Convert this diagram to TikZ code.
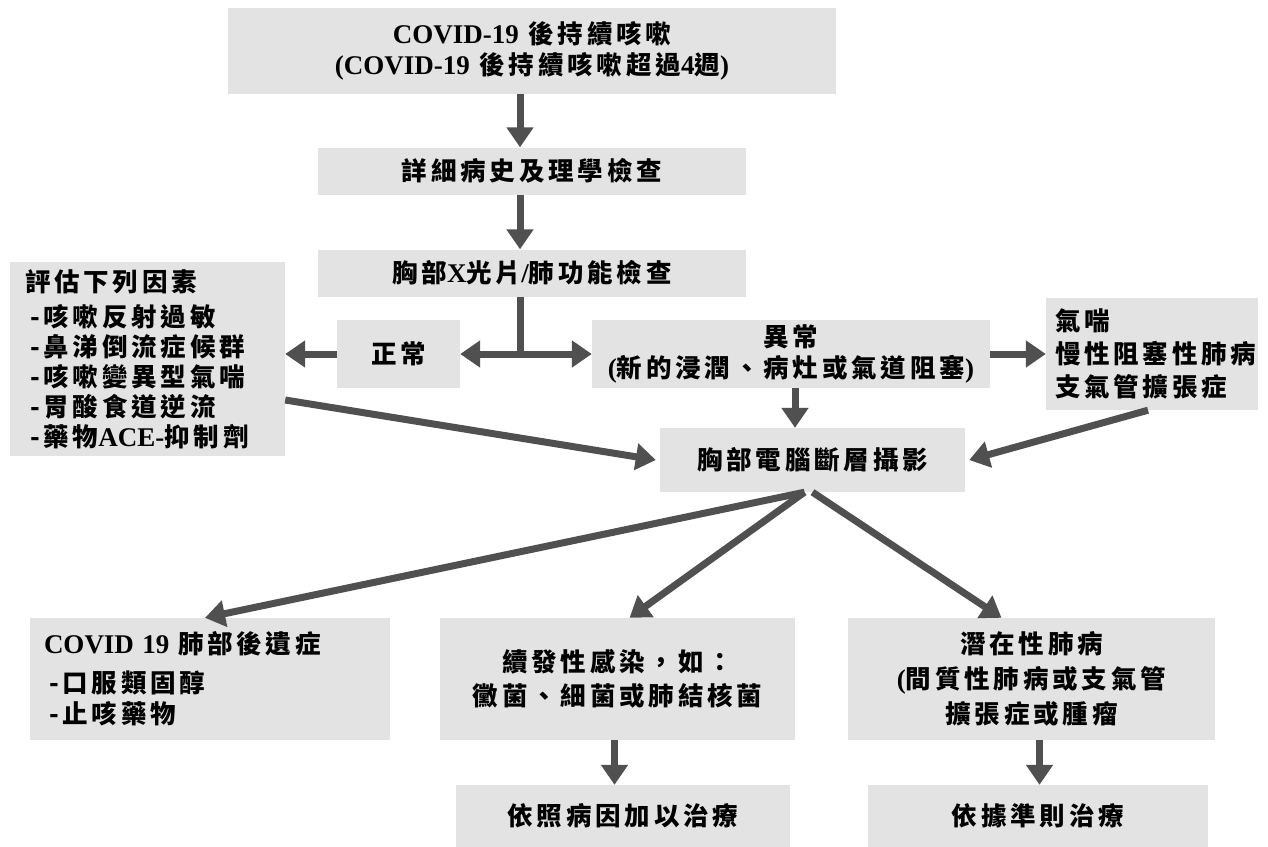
\documentclass[tikz,border=0pt]{standalone}
\usepackage{fontspec}
\setmainfont{Liberation Serif}
\newfontfamily\cjk[LetterSpace=15]{Noto Sans CJK TC}
\usetikzlibrary{arrows.meta}
\definecolor{boxgray}{HTML}{E3E3E3}
\definecolor{arrgray}{HTML}{505050}
\newcommand{\en}[1]{{\rmfamily\bfseries\fontsize{27}{31}\selectfont #1}}
\tikzset{
  box/.style={fill=boxgray, draw=none, inner sep=0pt, font=\cjk\bfseries\fontsize{25.5}{31}\selectfont},
  arr/.style={draw=arrgray, line width=7pt, -{Triangle[length=20pt,width=26pt]}},
  dblarr/.style={draw=arrgray, line width=7pt, {Triangle[length=20pt,width=26pt]}-{Triangle[length=20pt,width=26pt]}},
  seg/.style={draw=arrgray, line width=7pt}
}
\begin{document}
\begin{tikzpicture}[x=1pt,y=-1pt]
\useasboundingbox (0,0) rectangle (1268,846);
\fill[white] (0,0) rectangle (1268,846);

\node[box, minimum width=608pt, minimum height=86pt, align=center] (top) at (532,51)
  {\en{COVID-19} 後持續咳嗽\\ \en{(COVID-19} 後持續咳嗽超過\en{4}週\en{)}};
\node[box, minimum width=428pt, minimum height=47pt] (hist) at (532,171) {詳細病史及理學檢查};
\node[box, minimum width=428pt, minimum height=47pt] (cxr) at (532,273) {胸部\en{X}光片\en{/}肺功能檢查};
\node[box, minimum width=275pt, minimum height=194pt, align=left, text width=245pt,
      font=\cjk\bfseries\fontsize{25.5}{30}\selectfont] (eval) at (147.5,359)
  {評估下列因素\\[5pt]
   \hspace*{5pt}-咳嗽反射過敏\\
   \hspace*{5pt}-鼻涕倒流症候群\\
   \hspace*{5pt}-咳嗽變異型氣喘\\
   \hspace*{5pt}-胃酸食道逆流\\
   \hspace*{5pt}-藥物\en{ACE-}抑制劑};
\node[box, minimum width=123pt, minimum height=68pt] (norm) at (398.5,354) {正常};
\node[box, minimum width=398pt, minimum height=68pt, align=center] (abn) at (791,354)
  {異常\\ \en{(}新的浸潤、病灶或氣道阻塞\en{)}};
\node[box, minimum width=212pt, minimum height=112pt, align=left, text width=194pt,
      font=\cjk\bfseries\fontsize{25.5}{33}\selectfont] (asth) at (1152,354)
  {氣喘\\ 慢性阻塞性肺病\\ 支氣管擴張症};
\node[box, minimum width=305pt, minimum height=64pt] (ct) at (812.5,460) {胸部電腦斷層攝影};
\node[box, minimum width=360pt, minimum height=122pt, align=left, text width=332pt] (seq) at (210,679)
  {\en{COVID 19} 肺部後遺症\\[8pt]
   \hspace*{5pt}-口服類固醇\\
   \hspace*{5pt}-止咳藥物};
\node[box, minimum width=355pt, minimum height=122pt, align=center] (inf) at (617.5,679)
  {續發性感染，如：\\[3pt] 黴菌、細菌或肺結核菌};
\node[box, minimum width=367pt, minimum height=122pt, align=center,
      font=\cjk\bfseries\fontsize{25.5}{35}\selectfont] (lat) at (1031.5,679)
  {潛在性肺病\\ \en{(}間質性肺病或支氣管\\ 擴張症或腫瘤};
\node[box, minimum width=334pt, minimum height=62pt] (tx1) at (623,816) {依照病因加以治療};
\node[box, minimum width=340pt, minimum height=62pt] (tx2) at (1038,816) {依據準則治療};

\coordinate (j) at (520,354);
\draw[arr] ([xshift=-12pt]top.south) -- ([xshift=-12pt]hist.north);
\draw[arr] ([xshift=-12pt]hist.south) -- ([xshift=-12pt]cxr.north);
\draw[seg] ([xshift=-12pt]cxr.south) -- (j);
\draw[dblarr] (norm.east) -- (abn.west);
\draw[arr] (norm.west) -- (eval.east |- norm.west);
\draw[arr] (abn.east) -- (asth.west |- abn.east);
\draw[arr] ([xshift=4pt]abn.south) -- ([xshift=4pt]abn.south |- ct.north);
\draw[arr] ([yshift=-41pt]eval.east) -- ([xshift=-4pt]ct.west);
\draw[arr] ([xshift=-4pt]asth.south) -- ([xshift=4pt]ct.east);
\draw[arr] ([xshift=-8pt]ct.south) -- ([xshift=-5pt]seq.north);
\draw[arr] ([xshift=-8pt]ct.south) -- ([xshift=12pt]inf.north);
\draw[arr] ([xshift=0pt]ct.south) -- ([xshift=-30pt]lat.north);
\draw[arr] ([xshift=-3pt]inf.south) -- ([xshift=-3pt]inf.south |- tx1.north);
\draw[arr] ([xshift=8pt]lat.south) -- ([xshift=8pt]lat.south |- tx2.north);
\end{tikzpicture}
\end{document}
